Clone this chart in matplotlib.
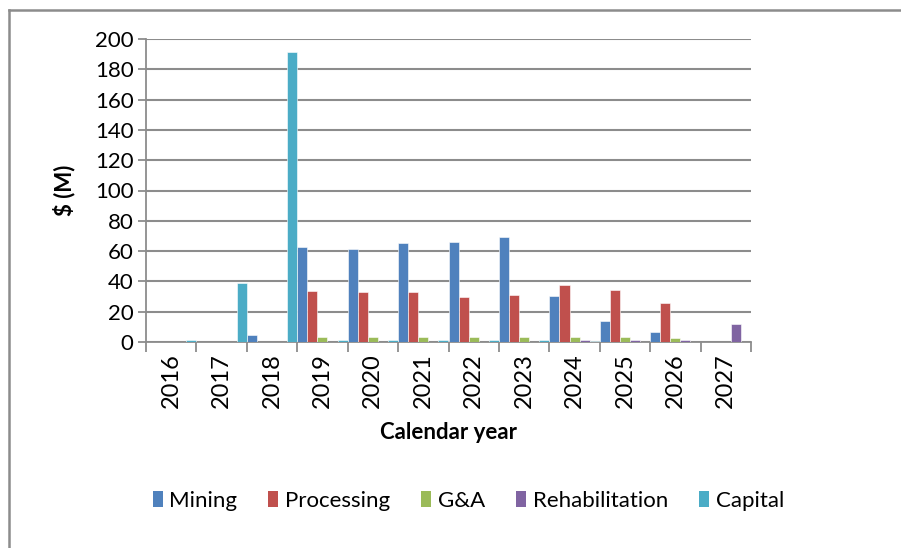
import numpy as np
import matplotlib
matplotlib.use("Agg")
import matplotlib.pyplot as plt
from matplotlib.lines import Line2D
from matplotlib.patches import Patch

plt.rcParams["font.family"] = ["Lato", "DejaVu Sans"]

years = ["2016", "2017", "2018", "2019", "2020", "2021",
         "2022", "2023", "2024", "2025", "2026", "2027"]
mining = [0, 0, 4.6, 63.0, 61.5, 65.3, 66.2, 69.3, 30.3, 13.7, 6.4, 0]
processing = [0, 0, 0, 33.4, 32.8, 32.8, 29.5, 31.2, 37.7, 34.4, 25.5, 0]
ga = [0, 0, 0, 3.4, 3.4, 3.4, 3.3, 3.3, 3.3, 3.3, 2.6, 0]
rehabilitation = [0, 0, 0, 0, 0, 0, 0, 0, 1.5, 1.5, 1.5, 12.0]
capital = [1.4, 39.0, 191.5, 1.5, 1.5, 1.3, 1.0, 1.0, 0.8, 0, 0, 0]

series = [
    ("Mining", mining, "#4F81BD"),
    ("Processing", processing, "#C0504D"),
    ("G&A", ga, "#9BBB59"),
    ("Rehabilitation", rehabilitation, "#8064A2"),
    ("Capital", capital, "#4BACC6"),
]

fig = plt.figure(figsize=(9.01, 5.48), dpi=100)
ax = fig.add_axes([146 / 901, 1 - 342 / 548, (751 - 146) / 901, (342 - 39) / 548])

x = np.arange(len(years))
bar_w = 1.0 / len(series)
for i, (name, vals, color) in enumerate(series):
    ax.bar(x - 0.5 + i * bar_w, vals, width=bar_w, align="edge",
           color=color, edgecolor="white", linewidth=0.4, label=name, zorder=3)

ax.set_xlim(-0.5, len(years) - 0.5)
ax.set_ylim(0, 200)
ax.set_yticks(np.arange(0, 201, 20))
ax.yaxis.grid(True, color="#8c8c8c", linewidth=1.5, zorder=0)
ax.set_axisbelow(True)

# category boundaries get the tick marks, labels sit at the centres
ax.set_xticks(np.arange(len(years) + 1) - 0.5)
ax.set_xticklabels([])
ax.set_xticks(x, minor=True)
ax.set_xticklabels(years, minor=True, rotation=90, fontsize=17)
ax.tick_params(axis="x", which="major", length=7, width=1.3, color="#8c8c8c")
ax.tick_params(axis="x", which="minor", length=0, pad=8)
ax.tick_params(axis="y", length=6, width=1.3, color="#8c8c8c", labelsize=16, pad=3)

for side in ["top", "right"]:
    ax.spines[side].set_visible(False)
for side in ["left", "bottom"]:
    ax.spines[side].set_color("#8c8c8c")
    ax.spines[side].set_linewidth(1.3)

ax.set_ylabel("$ (M)", fontsize=16, fontweight="bold", labelpad=14)
ax.set_xlabel("Calendar year", fontsize=16, fontweight="bold", labelpad=10)

handles = [Patch(facecolor=c, label=n) for n, _, c in series]
fig.legend(handles=handles, loc="center", bbox_to_anchor=(0.52, 1 - 501 / 548),
           ncol=5, frameon=False, fontsize=16, handlelength=0.45,
           handleheight=0.7, handletextpad=0.3, columnspacing=1.4)

# chart-area frame: only top and left edges fall inside the picture
y_top = 1 - 10 / 548
x_left = 9 / 901
fig.add_artist(Line2D([x_left, 1.0], [y_top, y_top], transform=fig.transFigure,
                      color="#8c8c8c", linewidth=1.8))
fig.add_artist(Line2D([x_left, x_left], [0.0, y_top], transform=fig.transFigure,
                      color="#8c8c8c", linewidth=1.8))

fig.savefig("out.png", dpi=100)
